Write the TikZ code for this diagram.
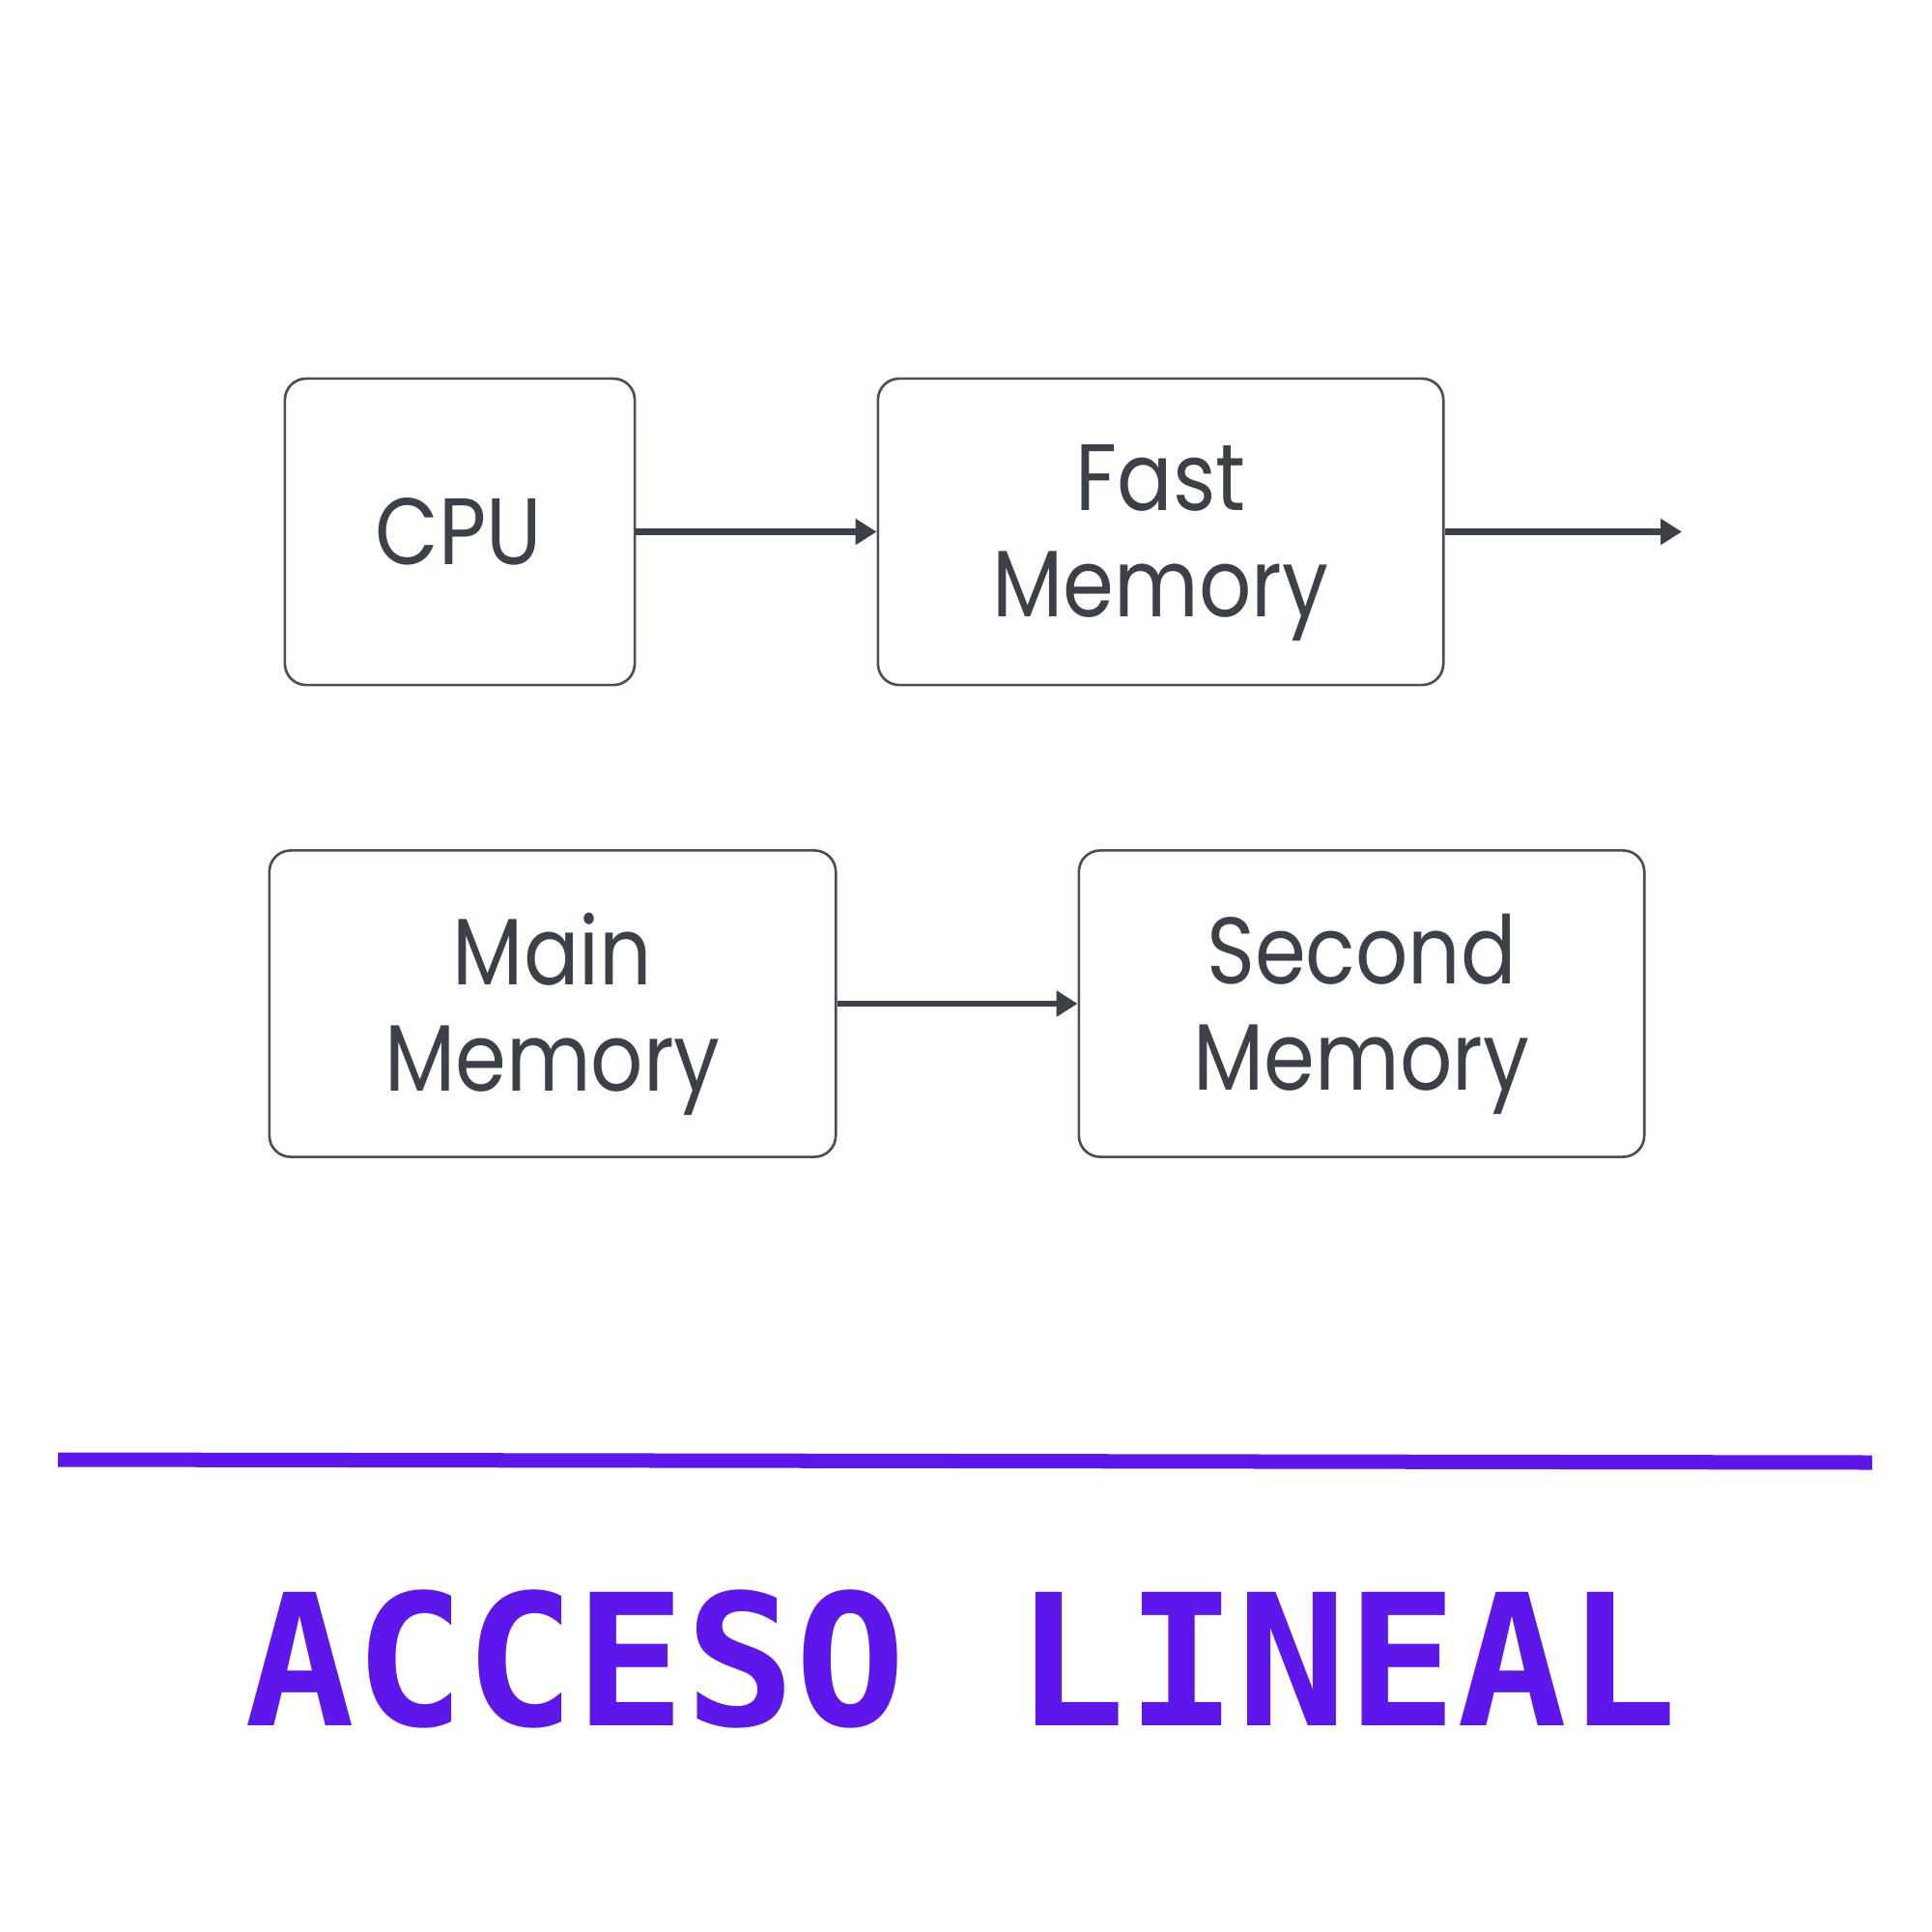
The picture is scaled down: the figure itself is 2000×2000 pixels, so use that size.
\documentclass[tikz,border=0pt]{standalone}
\usepackage{fontspec}
\setmainfont{Poppins}[FakeStretch=0.87]
\newfontfamily\titlefont{DejaVu Sans Mono}
\usetikzlibrary{arrows.meta}
\definecolor{ink}{HTML}{3C4048}
\definecolor{edge}{HTML}{4A4D55}
\definecolor{brand}{HTML}{5E17EB}
\tikzset{
  box/.style={draw=edge, line width=0.75pt, rounded corners=0.22cm, inner sep=0pt,
    minimum height=3.17cm},
  lbl/.style={inner sep=0pt, text=ink, align=center,
    font={\fontsize{27.8}{31.3}\selectfont}},
  arr/.style={draw=ink, line width=1.9pt, -{Triangle[length=0.22cm,width=0.26cm]}}
}
\begin{document}
\begin{tikzpicture}[x=0.01cm,y=-0.01cm]
\useasboundingbox[fill=white] (0,0) rectangle (2000,2000);
\node[box, minimum width=3.62cm] (cpu) at (476,550.5) {};
\node[box, minimum width=5.85cm] (fast) at (1201.5,550.5) {};
\node[box, minimum width=5.86cm] (main) at (572,1039) {};
\node[box, minimum width=5.85cm] (second) at (1409.5,1039) {};
\node[lbl] (cput) at (475,550.5) {CPU};
\node[lbl] (fastt) at (1201.5,562) {Fast\\Memory};
\node[lbl] (maint) at (572,1050) {Main\\Memory};
\node[lbl] (secondt) at (1409.5,1050) {Second\\Memory};
\coordinate (out) at (1741,550.5);
\draw[arr] (cpu.east) -- (fast.west);
\draw[arr] (fast.east) -- (out);
\draw[arr] (main.east) -- (second.west);
\coordinate (l1) at (60,1511);
\coordinate (l2) at (1938,1514);
\draw[brand, line width=0.15cm] (l1) -- (l2);
\node[anchor=base, inner sep=0pt, text=brand, font={\titlefont\bfseries\fontsize{53.9}{60}\selectfont}] (title) at (995,1786) {ACCESO LINEAL};
\end{tikzpicture}
\end{document}
